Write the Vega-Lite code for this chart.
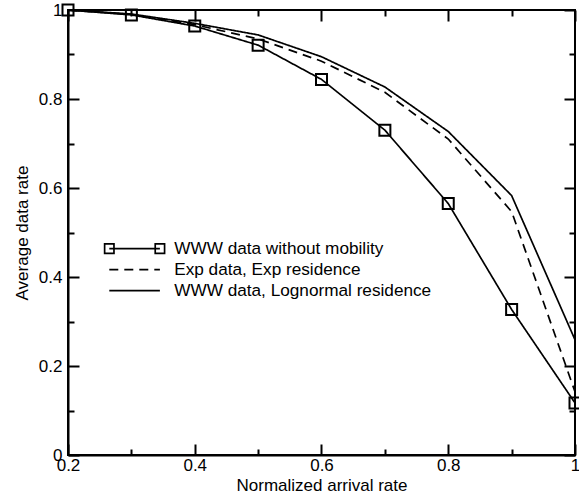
{
  "$schema": "https://vega.github.io/schema/vega-lite/v6.json",
  "width": 507,
  "height": 445,
  "autosize": {"type": "none"},
  "padding": {"left": 68, "top": 10, "right": 4, "bottom": 42},
  "config": {
    "view": {"stroke": "black", "strokeWidth": 2},
    "font": "Liberation Sans",
    "axis": {
      "grid": false,
      "labelFont": "Liberation Sans",
      "titleFont": "Liberation Sans",
      "labelFontSize": 17,
      "titleFontSize": 17,
      "titleFontWeight": "normal",
      "labelColor": "black",
      "titleColor": "black",
      "domainColor": "black",
      "tickColor": "black",
      "domainWidth": 2,
      "tickWidth": 2
    }
  },
  "data": {
    "values": [
      {"series": "WWW data without mobility", "x": 0.2, "y": 1.0},
      {"series": "WWW data without mobility", "x": 0.3, "y": 0.989},
      {"series": "WWW data without mobility", "x": 0.4, "y": 0.964},
      {"series": "WWW data without mobility", "x": 0.5, "y": 0.921},
      {"series": "WWW data without mobility", "x": 0.6, "y": 0.844},
      {"series": "WWW data without mobility", "x": 0.7, "y": 0.73},
      {"series": "WWW data without mobility", "x": 0.8, "y": 0.565},
      {"series": "WWW data without mobility", "x": 0.9, "y": 0.327},
      {"series": "WWW data without mobility", "x": 1.0, "y": 0.117},
      {"series": "Exp data, Exp residence", "x": 0.2, "y": 1.0},
      {"series": "Exp data, Exp residence", "x": 0.3, "y": 0.99},
      {"series": "Exp data, Exp residence", "x": 0.4, "y": 0.967},
      {"series": "Exp data, Exp residence", "x": 0.5, "y": 0.935},
      {"series": "Exp data, Exp residence", "x": 0.6, "y": 0.885},
      {"series": "Exp data, Exp residence", "x": 0.7, "y": 0.815},
      {"series": "Exp data, Exp residence", "x": 0.8, "y": 0.71},
      {"series": "Exp data, Exp residence", "x": 0.9, "y": 0.547},
      {"series": "Exp data, Exp residence", "x": 1.0, "y": 0.142},
      {"series": "WWW data, Lognormal residence", "x": 0.2, "y": 1.0},
      {"series": "WWW data, Lognormal residence", "x": 0.3, "y": 0.991},
      {"series": "WWW data, Lognormal residence", "x": 0.4, "y": 0.97},
      {"series": "WWW data, Lognormal residence", "x": 0.5, "y": 0.944},
      {"series": "WWW data, Lognormal residence", "x": 0.6, "y": 0.895},
      {"series": "WWW data, Lognormal residence", "x": 0.7, "y": 0.827},
      {"series": "WWW data, Lognormal residence", "x": 0.8, "y": 0.727},
      {"series": "WWW data, Lognormal residence", "x": 0.9, "y": 0.583},
      {"series": "WWW data, Lognormal residence", "x": 1.0, "y": 0.259}
    ]
  },
  "layer": [
    {
      "mark": {"type": "line", "color": "black", "strokeWidth": 1.7, "clip": false},
      "encoding": {
        "x": {
          "field": "x", "type": "quantitative",
          "scale": {"domain": [0.2, 1], "nice": false, "zero": false},
          "axis": {"orient": "bottom", "values": [0.2, 0.4, 0.6, 0.8, 1], "format": "~g", "ticks": false, "labelPadding": 2, "title": "Normalized arrival rate", "titlePadding": 4, "labelFlush": false, "labelOverlap": false}
        },
        "y": {
          "field": "y", "type": "quantitative",
          "scale": {"domain": [0, 1], "nice": false, "zero": false},
          "axis": {"orient": "left", "values": [0, 0.2, 0.4, 0.6, 0.8, 1], "format": "~g", "ticks": false, "labelPadding": 6, "title": "Average data rate", "titlePadding": 7, "labelFlush": false, "labelOverlap": false}
        },
        "strokeDash": {
          "field": "series", "type": "nominal",
          "scale": {"domain": ["WWW data without mobility", "Exp data, Exp residence", "WWW data, Lognormal residence"], "range": [[1, 0], [9, 6], [1, 0]]},
          "legend": {
            "orient": "none", "legendX": 58, "legendY": 230, "title": null, "padding": 0,
            "symbolType": "M-4.6,0H4.6", "symbolSize": 121, "symbolStrokeWidth": 1.7,
            "symbolStrokeColor": "black", "symbolFillColor": "transparent",
            "labelFont": "Liberation Sans", "labelFontSize": 17.2, "labelColor": "black",
            "labelOffset": 31, "rowPadding": 3, "labelLimit": 400,
            "encode": {"symbols": {"update": {"shape": {"signal": "datum.label == 'WWW data without mobility' ? 'M-4.6,0H4.6M-5.45,-0.85h1.7v1.7h-1.7zM3.75,-0.85h1.7v1.7h-1.7z' : 'M-4.6,0H4.6'"}}}}
          }
        }
      }
    },
    {
      "transform": [{"filter": "datum.series == 'WWW data without mobility'"}],
      "mark": {"type": "point", "shape": "square", "filled": false, "color": "black", "size": 121, "strokeWidth": 2, "opacity": 1, "clip": false},
      "encoding": {
        "x": {"field": "x", "type": "quantitative", "axis": {"orient": "bottom", "values": [0.2, 0.4, 0.6, 0.8, 1], "labels": false, "domain": false, "title": null, "tickSize": -11}},
        "y": {"field": "y", "type": "quantitative", "axis": {"orient": "left", "values": [0, 0.2, 0.4, 0.6, 0.8, 1], "labels": false, "domain": false, "title": null, "tickSize": -11}}
      }
    },
    {
      "mark": {"type": "point", "opacity": 0},
      "encoding": {
        "x": {"field": "x", "type": "quantitative", "axis": {"orient": "top", "values": [0.2, 0.4, 0.6, 0.8, 1], "labels": false, "domain": false, "title": null, "tickSize": -11}},
        "y": {"field": "y", "type": "quantitative", "axis": {"orient": "right", "values": [0, 0.2, 0.4, 0.6, 0.8, 1], "labels": false, "domain": false, "title": null, "tickSize": -11}}
      }
    },
    {
      "mark": {"type": "point", "opacity": 0},
      "encoding": {
        "x": {"field": "x", "type": "quantitative", "axis": {"orient": "bottom", "values": [0.3, 0.5, 0.7, 0.9], "labels": false, "domain": false, "title": null, "tickSize": -6}},
        "y": {"field": "y", "type": "quantitative", "axis": {"orient": "left", "values": [0.1, 0.3, 0.5, 0.7, 0.9], "labels": false, "domain": false, "title": null, "tickSize": -6}}
      }
    },
    {
      "mark": {"type": "point", "opacity": 0},
      "encoding": {
        "x": {"field": "x", "type": "quantitative", "axis": {"orient": "top", "values": [0.3, 0.5, 0.7, 0.9], "labels": false, "domain": false, "title": null, "tickSize": -6}},
        "y": {"field": "y", "type": "quantitative", "axis": {"orient": "right", "values": [0.1, 0.3, 0.5, 0.7, 0.9], "labels": false, "domain": false, "title": null, "tickSize": -6}}
      }
    }
  ],
  "resolve": {"axis": {"x": "independent", "y": "independent"}}
}
